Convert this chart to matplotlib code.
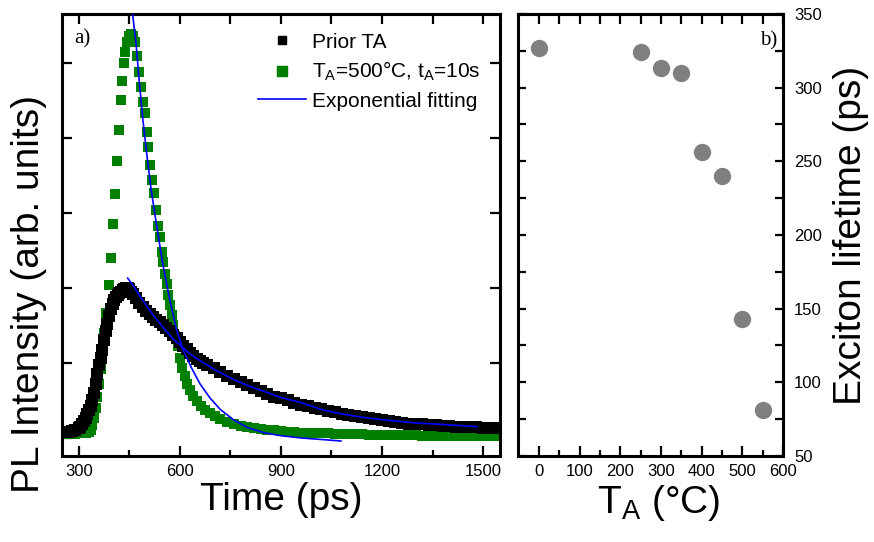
import numpy as np
import matplotlib
matplotlib.use("Agg")
import matplotlib.pyplot as plt
from matplotlib.lines import Line2D

plt.rcParams['font.family'] = ['Liberation Sans', 'DejaVu Sans']
plt.rcParams['mathtext.default'] = 'regular'

# --- panel a) : PL transients (arb. units) ---
prior_t = [250, 260, 270, 280, 290, 300, 305, 310, 315, 320, 325, 330, 335, 340, 345,
           350, 355, 360, 365, 370, 375, 380, 385, 390, 395, 400, 405, 410, 415, 420,
           425, 430, 435, 440, 445, 450, 455, 460, 470, 480, 490, 500, 510, 520, 530,
           540, 550, 560, 570, 580, 590, 600, 610, 620, 630, 640, 650, 660, 670, 680,
           700, 720, 740, 760, 780, 800, 820, 840, 860, 880, 900, 920, 940, 960, 980,
           1000, 1020, 1040, 1060, 1080, 1100, 1120, 1140, 1160, 1180, 1200, 1220, 1240,
           1260, 1280, 1300, 1320, 1340, 1360, 1380, 1400, 1420, 1440, 1460, 1480, 1500,
           1520, 1540, 1550]
prior_i = [0.08, 0.08, 0.08, 0.09, 0.10, 0.13, 0.15, 0.18, 0.22, 0.27, 0.32, 0.37, 0.43, 0.50, 0.60,
           0.72, 0.85, 0.97, 1.07, 1.17, 1.30, 1.42, 1.52, 1.62, 1.72, 1.79, 1.84, 1.88, 1.91, 1.93,
           1.95, 1.97, 1.99, 2.00, 2.00, 1.98, 1.95, 1.92, 1.86, 1.80, 1.74, 1.69, 1.65, 1.61, 1.57,
           1.54, 1.50, 1.46, 1.42, 1.37, 1.33, 1.28, 1.23, 1.18, 1.13, 1.09, 1.05, 1.02, 1.00, 0.97,
           0.93, 0.88, 0.83, 0.79, 0.75, 0.71, 0.67, 0.63, 0.59, 0.55, 0.53, 0.50, 0.47, 0.44, 0.42,
           0.40, 0.38, 0.36, 0.34, 0.32, 0.31, 0.29, 0.28, 0.27, 0.25, 0.24, 0.22, 0.21,
           0.20, 0.19, 0.18, 0.18, 0.17, 0.17, 0.16, 0.16, 0.15, 0.15, 0.14, 0.14, 0.13,
           0.13, 0.13, 0.13]

ta500_t = [250, 270, 290, 310, 320, 330, 335, 340, 345, 350, 355, 360, 365, 370, 375,
           380, 389, 395, 400, 406, 412, 418, 424, 429, 433, 437, 443, 449, 455, 461,
           467, 472, 478, 484, 490, 496, 501, 506, 512, 517, 522, 528, 534, 540, 546,
           551, 556, 561, 566, 571, 576, 581, 587, 593, 600, 607, 614, 622, 630, 640,
           650, 662, 676, 690, 705, 720, 740, 760, 780, 800, 820, 840, 860, 880, 900,
           920, 940, 960, 980, 1000, 1020, 1040, 1060, 1080, 1100, 1120, 1140, 1160, 1180,
           1200, 1220, 1240, 1260, 1280, 1300, 1320, 1340, 1360, 1380, 1400, 1420, 1440,
           1460, 1480, 1500, 1520, 1540, 1550]
ta500_i = [0.05, 0.05, 0.05, 0.06, 0.07, 0.08, 0.11, 0.17, 0.27, 0.40, 0.55, 0.72, 0.92, 1.15, 1.40,
           1.67, 2.04, 2.40, 2.85, 3.25, 3.69, 4.11, 4.51, 4.76, 5.00, 5.15, 5.27, 5.35, 5.38, 5.36,
           5.28, 5.09, 4.88, 4.68, 4.48, 4.33, 4.08, 3.88, 3.64, 3.44, 3.27, 3.04, 2.83, 2.68, 2.48,
           2.35, 2.19, 2.05, 1.90, 1.77, 1.64, 1.51, 1.36, 1.22, 1.06, 0.93, 0.82, 0.72, 0.64, 0.56,
           0.49, 0.43, 0.37, 0.33, 0.29, 0.25, 0.21, 0.18, 0.16, 0.14, 0.13, 0.12, 0.11, 0.10, 0.09,
           0.085, 0.08, 0.07, 0.07, 0.06, 0.06, 0.06, 0.05, 0.05, 0.05, 0.05, 0.05, 0.04, 0.04,
           0.04, 0.04, 0.04, 0.04, 0.04, 0.04, 0.03, 0.03, 0.03, 0.03, 0.03, 0.03, 0.03,
           0.02, 0.02, 0.02, 0.02, 0.02, 0.02]

# exponential fits
fit_prior_t = [445, 460, 480, 500, 520, 540, 560, 580, 600, 630, 660, 700, 750, 800, 850,
               900, 960, 1020, 1080, 1150, 1220, 1300, 1380, 1482]
fit_prior_i = [2.13, 2.04, 1.90, 1.77, 1.64, 1.53, 1.42, 1.32, 1.24, 1.12, 1.03, 0.92, 0.80, 0.70, 0.62,
               0.54, 0.47, 0.38, 0.32, 0.27, 0.235, 0.20, 0.18, 0.15]
fit_ta500_t = [457, 470, 480, 490, 500, 515, 530, 550, 570, 590, 610, 635, 660, 690, 720,
               760, 800, 850, 900, 960, 1020, 1078]
fit_ta500_i = [5.75, 5.25, 4.72, 4.25, 3.85, 3.30, 2.86, 2.30, 1.84, 1.44, 1.17, 0.93, 0.72, 0.53, 0.38,
               0.24, 0.14, 0.07, 0.03, 0.00, -0.02, -0.04]

# --- panel b) : exciton lifetime vs annealing temperature ---
anneal_T = [0, 250, 300, 350, 400, 450, 500, 550]
lifetime = [327, 324, 313, 310, 256, 240, 143, 81]

green = '#007f00'
blue = '#0000ff'

fig = plt.figure(figsize=(8.74, 5.42), dpi=100)
ax1 = fig.add_axes([0.0709, 0.1587, 0.5011, 0.8155])
ax2 = fig.add_axes([0.5927, 0.1587, 0.3032, 0.8155])

# panel a
ax1.plot(ta500_t, ta500_i, 's', color=green, ms=7.2, mew=0, zorder=2)
ax1.plot(prior_t, prior_i, 's', color='black', ms=9, mew=0, zorder=3)
ax1.plot(fit_ta500_t, fit_ta500_i, '-', color=blue, lw=1.2, zorder=4)
ax1.plot(fit_prior_t, fit_prior_i, '-', color=blue, lw=1.2, zorder=4)

ax1.set_xlim(250, 1550)
ax1.set_ylim(-0.24, 5.65)
ax1.set_xticks([300, 600, 900, 1200, 1500])
ax1.set_xticks([450, 750, 1050, 1350], minor=True)
ax1.set_yticks([0, 1, 2, 3, 4, 5])
ax1.set_yticklabels([])
ax1.tick_params(axis='x', which='major', direction='in', length=7, width=1.6,
                labelsize=12, pad=6, top=False)
ax1.tick_params(axis='x', which='minor', direction='in', length=4, width=1.6, top=False)
ax1.tick_params(axis='y', direction='in', length=7, width=1.6, left=True, right=True)
top1 = ax1.secondary_xaxis('top')
top1.set_xticks([300, 450, 600, 750, 900, 1050, 1200, 1350, 1500])
top1.set_xticklabels([])
top1.tick_params(direction='in', length=7, width=1.6)
ax1.set_xlabel('Time (ps)', fontsize=28, labelpad=2)
ax1.set_ylabel('PL Intensity (arb. units)', fontsize=28)
ax1.yaxis.set_label_coords(-0.035, 0.367)
ax1.text(0.027, 0.966, 'a)', transform=ax1.transAxes, ha='left', va='top',
         fontsize=15, family='Liberation Serif')

handles = [
    Line2D([], [], ls='none', marker='s', color='black', ms=6),
    Line2D([], [], ls='none', marker='s', color=green, ms=7),
    Line2D([], [], color=blue, lw=1.2),
]
labels = ['Prior TA', 'T$_A$=500°C, t$_A$=10s', 'Exponential fitting']
ax1.legend(handles, labels, loc='upper right', bbox_to_anchor=(0.957, 0.958),
           frameon=False, fontsize=15, borderpad=0, borderaxespad=0,
           handlelength=2.3, handletextpad=0.3, labelspacing=0.4)

# panel b
ax2.plot(anneal_T, lifetime, 'o', color='#808080', ms=12.5, mew=0)
ax2.set_xlim(-52, 600)
ax2.set_ylim(50, 350)
ax2.set_xticks([0, 100, 200, 300, 400, 500, 600])
ax2.set_xticks([50, 150, 250, 350, 450, 550], minor=True)
ax2.set_yticks([50, 100, 150, 200, 250, 300, 350])
ax2.set_yticks([75, 125, 175, 225, 275, 325], minor=True)
ax2.tick_params(axis='x', which='major', direction='in', length=7, width=1.6,
                labelsize=12, pad=6, top=False)
ax2.tick_params(axis='x', which='minor', direction='in', length=4, width=1.6, top=False)
ax2.tick_params(axis='y', which='both', direction='in', length=6, width=1.6,
                left=True, right=True, labelleft=False, labelright=True, labelsize=12, pad=8)
top2 = ax2.secondary_xaxis('top')
top2.set_xticks(list(range(0, 601, 50)))
top2.set_xticklabels([])
top2.tick_params(direction='in', length=7, width=1.6)
ax2.yaxis.set_label_position('right')
ax2.set_ylabel('Exciton lifetime (ps)', fontsize=28, rotation=90, labelpad=8)
ax2.set_xlabel('T$_A$ (°C)', fontsize=28, labelpad=2)
ax2.xaxis.set_label_coords(0.53, -0.06)
ax2.text(0.977, 0.96, 'b)', transform=ax2.transAxes, ha='right', va='top',
         fontsize=15, family='Liberation Serif')

for ax in (ax1, ax2, top1, top2):
    for sp in ax.spines.values():
        sp.set_linewidth(2.2)

fig.savefig('out.png', dpi=100)
